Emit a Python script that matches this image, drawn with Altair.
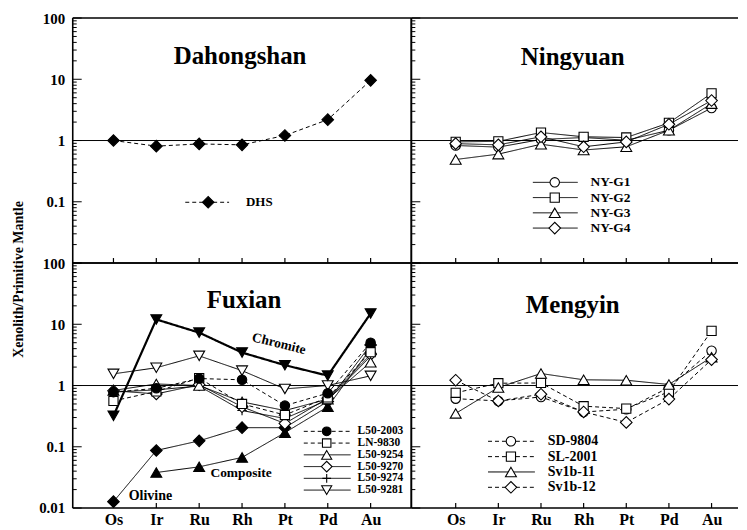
import altair as alt
import pandas as pd

# ---------------- data ----------------
ELEMENTS = ["Os", "Ir", "Ru", "Rh", "Pt", "Pd", "Au"]

# Dahongshan
DHS = [1.00, 0.81, 0.88, 0.85, 1.21, 2.19, 9.6]
# Ningyuan
NY_G1 = [0.83, 0.78, 1.04, 1.12, 1.01, 1.47, 3.4]
NY_G2 = [0.95, 0.97, 1.35, 1.15, 1.12, 1.94, 5.9]
NY_G3 = [0.49, 0.60, 0.87, 0.70, 0.79, 1.47, 4.0]
NY_G4 = [0.89, 0.85, 1.15, 0.79, 0.95, 1.84, 4.5]
# Fuxian
L50_2003 = [0.78, 0.90, 1.30, 1.24, 0.47, 0.75, 5.0]
LN_9830 = [0.56, 0.80, 1.32, 0.50, 0.33, 0.64, 3.5]
L50_9254 = [0.83, 1.06, 1.00, 0.54, 0.39, 0.60, 2.4]
L50_9270 = [0.82, 0.73, 1.03, 0.45, 0.24, 0.62, 3.2]
L50_9274 = [0.78, 0.85, 0.98, 0.39, 0.29, 0.58, 3.0]
L50_9281 = [1.55, 1.95, 3.05, 1.75, 0.88, 1.00, 1.44]
CHROMITE = [0.32, 12.0, 7.3, 3.45, 2.15, 1.45, 15.0]
COMPOSITE = [None, 0.038, 0.047, 0.067, 0.17, 0.45, 4.0]
OLIVINE = [0.0127, 0.087, 0.125, 0.205, 0.205, 0.55, 4.6]
# Mengyin
SD_9804 = [0.61, 0.56, 0.65, 0.37, 0.41, 0.93, 3.7]
SL_2001 = [0.76, 1.09, 1.10, 0.46, 0.42, 0.79, 7.8]
SV1B_11 = [0.35, 0.93, 1.57, 1.24, 1.22, 1.04, 2.9]
SV1B_12 = [1.22, 0.56, 0.72, 0.37, 0.25, 0.60, 2.65]

PANEL_TITLES = ["Dahongshan", "Ningyuan", "Fuxian", "Mengyin"]
Y_TITLE = "Xenolith/Primitive Mantle"
Y_LABELS_TOP = [0.1, 1, 10, 100]
Y_LABELS_BOTTOM = [0.01, 0.1, 1, 10, 100]

# ---------------- styles ----------------
FONT = "Liberation Serif"
PLUS = "M-1,0L1,0M0,-1L0,1"
DASH = [4, 3]
SOLID = [1, 0]
SIZES = {"circle": 90, "square": 85, "triangle-up": 120, "triangle-down": 120,
         "diamond": 135, PLUS: 90}
STYLE = {
    "DHS": ("diamond", "black", DASH, 1),
    "NY-G1": ("circle", "white", SOLID, 1),
    "NY-G2": ("square", "white", SOLID, 1),
    "NY-G3": ("triangle-up", "white", SOLID, 1),
    "NY-G4": ("diamond", "white", SOLID, 1),
    "L50-2003": ("circle", "black", DASH, 1),
    "LN-9830": ("square", "white", DASH, 1),
    "L50-9254": ("triangle-up", "white", SOLID, 1),
    "L50-9270": ("diamond", "white", SOLID, 1),
    "L50-9274": (PLUS, "white", SOLID, 1),
    "L50-9281": ("triangle-down", "white", SOLID, 1),
    "Chromite": ("triangle-down", "black", SOLID, 2.2),
    "Composite": ("triangle-up", "black", SOLID, 1),
    "Olivine": ("diamond", "black", SOLID, 1),
    "SD-9804": ("circle", "white", DASH, 1),
    "SL-2001": ("square", "white", DASH, 1),
    "Sv1b-11": ("triangle-up", "white", SOLID, 1),
    "Sv1b-12": ("diamond", "white", DASH, 1),
}

W_L, W_R, H = 340, 328, 246
XDOM_L = [-0.95, 6.95]
XDOM_R = [-1.04, 6.62]
ONE = pd.DataFrame({"k": [0]})

LABEL_EXPR = "[" + ",".join("'%s'" % e for e in ELEMENTS) + "][datum.value]"
MAJOR = [0.01, 0.1, 1, 10, 100]
MINOR = [m * 10.0 ** e for e in range(-2, 2) for m in range(2, 10)]


def point_mark(name, scale=1.0):
    shape, fill, _, _ = STYLE[name]
    return dict(shape=shape, filled=True, fill=fill, stroke="black",
                strokeWidth=1.1, size=SIZES[shape] * scale, opacity=1)


def build_panel(series, W, xdom, show_x, ylabels, ytitle, title, title_pos,
                legend, notes):
    xscale = alt.Scale(domain=xdom, nice=False, zero=False)
    yscale = alt.Scale(type="log", domain=[0.01, 100], nice=False)
    if show_x:
        xaxis = alt.Axis(values=list(range(7)), labelExpr=LABEL_EXPR, ticks=False,
                         domain=False, grid=False, title=None, labelFont=FONT,
                         labelFontSize=16, labelFontWeight="bold", labelColor="black",
                         labelPadding=4, labelAngle=0)
    else:
        xaxis = None
    if ylabels:
        kw = dict(values=ylabels, labelExpr="toString(datum.value)", ticks=False,
                  domain=False, grid=False, labelFont=FONT, labelFontSize=15,
                  labelFontWeight="bold", labelColor="black", labelPadding=8)
        if ytitle:
            kw.update(title=ytitle, titleFont=FONT, titleFontSize=14,
                      titleFontWeight="bold", titleColor="black", titlePadding=13,
                      titleY=16)
        else:
            kw.update(title=None)
        yaxis = alt.Axis(**kw)
    else:
        yaxis = None

    def X(f):
        return alt.X(f, type="quantitative", scale=xscale, axis=xaxis)

    def Y(f):
        return alt.Y(f, type="quantitative", scale=yscale, axis=yaxis)

    layers = []
    # inward y ticks
    layers.append(alt.Chart(pd.DataFrame({"v": MAJOR})).mark_rule(
        color="black", strokeWidth=1).encode(y=Y("v"), x=alt.value(0), x2=alt.value(9)))
    layers.append(alt.Chart(pd.DataFrame({"v": MINOR})).mark_rule(
        color="black", strokeWidth=1).encode(y=Y("v"), x=alt.value(0), x2=alt.value(4)))
    # inward x ticks
    layers.append(alt.Chart(pd.DataFrame({"idx": list(range(7))})).mark_rule(
        color="black", strokeWidth=1.2).encode(x=X("idx"), y=alt.value(H), y2=alt.value(H - 5)))
    # reference line at 1
    layers.append(alt.Chart(pd.DataFrame({"v": [1]})).mark_rule(
        color="black", strokeWidth=1).encode(y=Y("v"), x=alt.value(0), x2=alt.value(W)))
    # frame
    fr = alt.Chart(ONE).mark_rule(color="black", strokeWidth=1.6)
    layers.append(fr.encode(x=alt.value(0), x2=alt.value(W), y=alt.value(0)))
    layers.append(fr.encode(x=alt.value(0), x2=alt.value(W), y=alt.value(H)))
    layers.append(fr.encode(x=alt.value(0), y=alt.value(0), y2=alt.value(H)))
    if W == W_L:
        layers.append(fr.encode(x=alt.value(W), y=alt.value(0), y2=alt.value(H)))

    # data
    frames = {}
    for name, vals in series:
        rows = [{"series": name, "el": e, "idx": i, "val": v}
                for i, (e, v) in enumerate(zip(ELEMENTS, vals)) if v is not None]
        frames[name] = pd.DataFrame(rows)
    for name, _ in series:
        _, _, dash, w = STYLE[name]
        layers.append(alt.Chart(frames[name]).mark_line(
            color="black", strokeWidth=w, strokeDash=dash).encode(x=X("idx"), y=Y("val")))
    for name, _ in series:
        layers.append(alt.Chart(frames[name]).mark_point(**point_mark(name)).encode(
            x=X("idx"), y=Y("val")))

    # legend
    names, x1, x2, xm, xt, y0, dy, fs, msc = legend
    for i, name in enumerate(names):
        py = y0 + i * dy
        _, _, dash, w = STYLE[name]
        layers.append(alt.Chart(ONE).mark_rule(color="black", strokeWidth=1,
                                               strokeDash=dash).encode(
            x=alt.value(x1), x2=alt.value(x2), y=alt.value(py)))
        layers.append(alt.Chart(ONE).mark_point(**point_mark(name, msc)).encode(
            x=alt.value(xm), y=alt.value(py)))
        layers.append(alt.Chart(ONE).mark_text(
            text=name, align="left", baseline="middle", font=FONT, fontWeight="bold",
            fontSize=fs, color="black").encode(x=alt.value(xt), y=alt.value(py)))

    # title
    layers.append(alt.Chart(ONE).mark_text(
        text=title, align="center", baseline="alphabetic", font=FONT,
        fontWeight="bold", fontSize=25, color="black").encode(
        x=alt.value(title_pos[0]), y=alt.value(title_pos[1])))
    for txt, px, py, ang, fs in notes:
        layers.append(alt.Chart(ONE).mark_text(
            text=txt, align="center", baseline="middle", font=FONT, fontWeight="bold",
            fontSize=fs, color="black", angle=ang).encode(x=alt.value(px), y=alt.value(py)))

    return alt.layer(*layers).properties(width=W, height=H)


tl = build_panel([("DHS", DHS)], W_L, XDOM_L, False, Y_LABELS_TOP, None,
                 PANEL_TITLES[0], (168, 46),
                 (["DHS"], 113, 157, 136, 174, 185, 0, 13, 1.0), [])
tr = build_panel([("NY-G1", NY_G1), ("NY-G2", NY_G2), ("NY-G3", NY_G3), ("NY-G4", NY_G4)],
                 W_R, XDOM_R, False, None, None, PANEL_TITLES[1], (162, 47),
                 (["NY-G1", "NY-G2", "NY-G3", "NY-G4"], 122, 167, 144, 180, 165, 15.3, 13.5, 1.0), [])
bl = build_panel([("Olivine", OLIVINE), ("Composite", COMPOSITE),
                  ("L50-9281", L50_9281), ("L50-9274", L50_9274), ("L50-9270", L50_9270),
                  ("L50-9254", L50_9254), ("LN-9830", LN_9830), ("L50-2003", L50_2003),
                  ("Chromite", CHROMITE)],
                 W_L, XDOM_L, True, Y_LABELS_BOTTOM, Y_TITLE, PANEL_TITLES[2], (172, 45),
                 (["L50-2003", "LN-9830", "L50-9254", "L50-9270", "L50-9274", "L50-9281"],
                  232, 279, 255, 286, 169, 11.8, 11.5, 0.85),
                 [("Chromite", 207, 81, 14, 13.5), ("Composite", 169, 211, 0, 13.5),
                  ("Olivine", 78, 234, 0, 14)])
br = build_panel([("SD-9804", SD_9804), ("SL-2001", SL_2001), ("Sv1b-11", SV1B_11),
                  ("Sv1b-12", SV1B_12)],
                 W_R, XDOM_R, True, None, None, PANEL_TITLES[3], (162, 50),
                 (["SD-9804", "SL-2001", "Sv1b-11", "Sv1b-12"], 77, 124, 100, 137, 179, 15.4, 14, 1.0), [])

chart = alt.concat(tl, tr, bl, br, columns=2, spacing=0, bounds="flush", align="each").resolve_scale(
    x="independent", y="independent").properties(
    padding={"left": 3, "top": 2, "right": 0, "bottom": 0}, background="white"
).configure_view(stroke=None)

chart.save("out.html", embed_options={"renderer": "svg", "actions": False})
